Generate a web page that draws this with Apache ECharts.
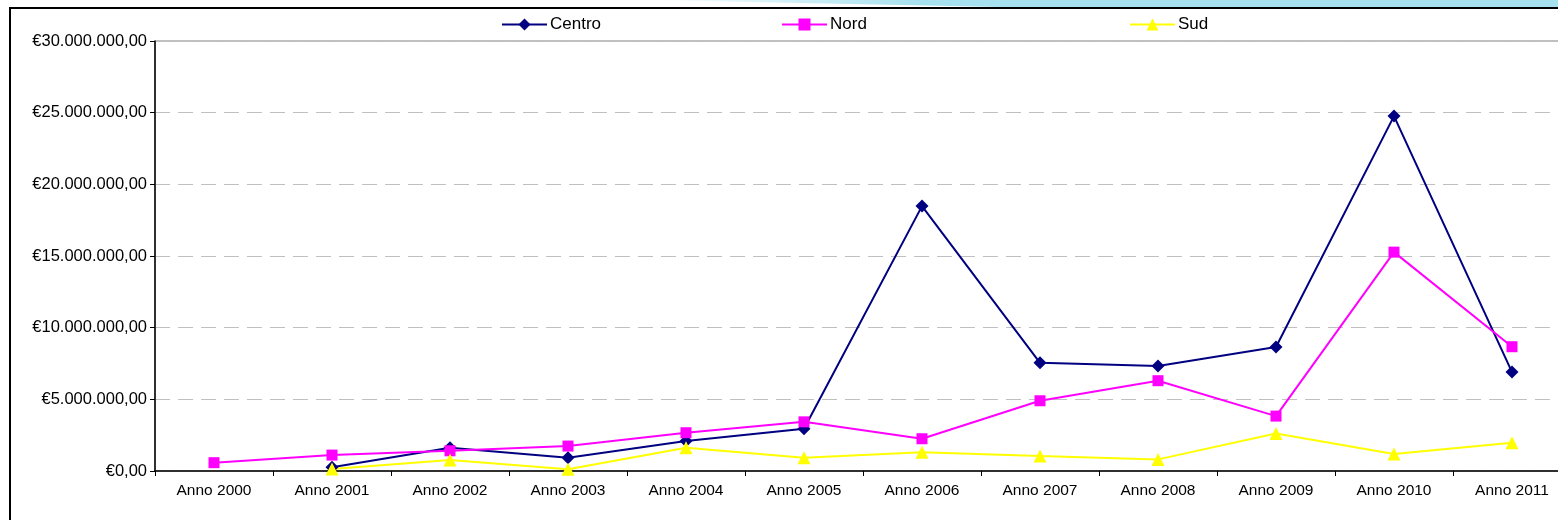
<!DOCTYPE html>
<html>
<head>
<meta charset="utf-8">
<script src="https://cdn.jsdelivr.net/npm/echarts@6/dist/echarts.min.js"></script>
<style>
  html, body { margin: 0; padding: 0; background: #fff; }
  #chart { width: 1558px; height: 520px; }
</style>
</head>
<body>
<div id="chart"></div>
<script>
// anni sull'asse x
var anni = ['Anno 2000', 'Anno 2001', 'Anno 2002', 'Anno 2003', 'Anno 2004', 'Anno 2005',
            'Anno 2006', 'Anno 2007', 'Anno 2008', 'Anno 2009', 'Anno 2010', 'Anno 2011'];

// valori in euro
var centro = ['-', 260000, 1620000, 930000, 2090000, 2950000, 18480000, 7550000, 7320000, 8650000, 24760000, 6900000];
var nord   = [580000, 1110000, 1410000, 1740000, 2670000, 3430000, 2250000, 4900000, 6300000, 3830000, 15270000, 8670000];
var sud    = ['-', 140000, 770000, 120000, 1620000, 930000, 1300000, 1040000, 810000, 2620000, 1180000, 1970000];

var yMin = 0, yMax = 30000000, yStep = 5000000;

function euro(v) {
    var parts = v.toFixed(2).split('.');
    var intero = parts[0].replace(/\B(?=(\d{3})+(?!\d))/g, '.');
    return '€' + intero + ',' + parts[1];
}

var font = 'Liberation Sans, Arial, sans-serif';

var myChart = echarts.init(document.getElementById('chart'));

function legenda(nome, left) {
    return {
        data: [nome],
        left: left,
        top: 16,
        itemWidth: 45,
        itemHeight: 15,
        itemGap: 0,
        padding: 0,
        textStyle: { fontFamily: font, fontSize: 17, color: '#000', padding: [0, 0, 0, -2] }
    };
}

myChart.setOption({
    backgroundColor: '#fff',
    animation: false,
    graphic: [
        {
            type: 'polygon',
            shape: { points: [[650, 0], [1558, 0], [1558, 7], [1000, 7]] },
            style: {
                fill: new echarts.graphic.LinearGradient(0, 0, 1, 0, [
                    { offset: 0, color: '#ffffff' },
                    { offset: 0.3, color: '#a6e1ef' },
                    { offset: 1, color: '#a6e1ef' }
                ])
            },
            z: 0
        },
        {
            type: 'rect',
            shape: { x: 1000, y: 0, width: 558, height: 7 },
            style: { fill: '#a6e1ef' },
            z: 0
        },
        {
            type: 'polyline',
            shape: { points: [[10, 520], [10, 8], [1558, 8]] },
            style: { stroke: '#000', lineWidth: 2, fill: null },
            z: 1
        }
    ],
    legend: [
        legenda('Centro', 501),
        legenda('Nord', 781),
        legenda('Sud', 1129)
    ],
    grid: {
        left: 155,
        width: 1416,
        top: 41,
        height: 430,
        outerBoundsMode: 'none',
        containLabel: false,
        show: true,
        borderColor: '#808080',
        borderWidth: 1,
        backgroundColor: 'transparent'
    },
    xAxis: {
        type: 'category',
        data: anni,
        boundaryGap: true,
        axisLine: { lineStyle: { color: '#000', width: 1.5 } },
        axisTick: { show: true, length: 5, lineStyle: { color: '#000' } },
        axisLabel: { fontFamily: font, fontSize: 15.5, color: '#000', margin: 12 },
        splitLine: { show: false }
    },
    yAxis: {
        type: 'value',
        min: yMin,
        max: yMax,
        interval: yStep,
        axisLine: { show: true, lineStyle: { color: '#000', width: 1.5 } },
        axisTick: { show: true, length: 5, lineStyle: { color: '#000' } },
        axisLabel: {
            fontFamily: font, fontSize: 16.5, color: '#000', margin: 8,
            formatter: function (v) { return euro(v); }
        },
        splitLine: { show: true, lineStyle: { color: '#c0c0c0', type: [15, 8], width: 1 } }
    },
    series: [
        {
            name: 'Centro',
            type: 'line',
            data: centro,
            symbol: 'diamond',
            symbolSize: 13,
            lineStyle: { color: '#000080', width: 2 },
            itemStyle: { color: '#000080' }
        },
        {
            name: 'Nord',
            type: 'line',
            data: nord,
            symbol: 'rect',
            symbolSize: 11,
            lineStyle: { color: '#ff00ff', width: 2 },
            itemStyle: { color: '#ff00ff' }
        },
        {
            name: 'Sud',
            type: 'line',
            data: sud,
            symbol: 'triangle',
            symbolSize: 13,
            lineStyle: { color: '#ffff00', width: 2 },
            itemStyle: { color: '#ffff00' }
        }
    ]
});
</script>
</body>
</html>
